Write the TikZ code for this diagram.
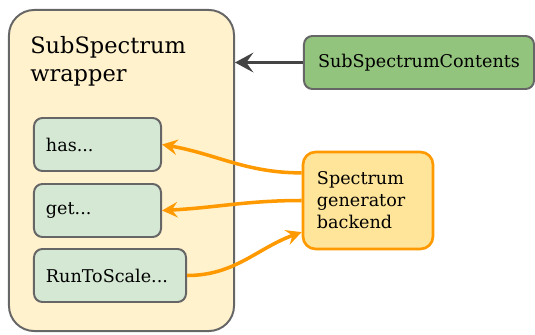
\documentclass[tikz,border=0pt]{standalone}
\usepackage{fontspec}
\setmainfont{DejaVu Serif}
\usetikzlibrary{arrows.meta}
\definecolor{wrapfill}{HTML}{FFF2CC}
\definecolor{edgegray}{HTML}{666666}
\definecolor{methfill}{HTML}{D5E8D4}
\definecolor{contfill}{HTML}{93C47D}
\definecolor{backfill}{HTML}{FFE599}
\definecolor{backedge}{HTML}{FF9900}
\definecolor{darkarrow}{HTML}{444444}
\tikzset{
  method/.style={draw=edgegray,line width=1.4pt,fill=methfill,rounded corners=6pt,
    minimum height=1.325cm,inner xsep=0.3cm,align=left,
    font=\fontsize{12.5}{15.6}\selectfont},
  calls/.style={backedge,line width=2.5pt,-{Stealth[length=11pt,width=11pt,inset=4pt]}}
}
\begin{document}
\begin{tikzpicture}[x=0.025cm,y=-0.025cm]
\useasboundingbox (0,0) rectangle (535,335);
% Wrapper box
\node[draw=edgegray,line width=1.4pt,fill=wrapfill,rounded corners=18pt,
  minimum width=5.625cm,minimum height=8.025cm] (wrapper) at (121.5,170.5) {};
\node[anchor=north west,align=left,inner sep=0pt,
  font=\fontsize{16}{20}\selectfont] (title) at (30,36) {SubSpectrum\\wrapper};

% Methods inside the wrapper
\node[method,text width=2.575cm] (has) at (97.5,144.5) {has...};
\node[method,text width=2.575cm] (get) at (97.5,210.5) {get...};
\node[method,text width=3.2cm] (run) at (110,275.5) {RunToScale...};

% Contents and backend
\node[draw=edgegray,line width=1.4pt,fill=contfill,rounded corners=6pt,
  minimum width=5.75cm,minimum height=1.325cm,
  font=\fontsize{12.5}{15.6}\selectfont] (contents) at (419,62.5) {SubSpectrumContents};
\node[draw=backedge,line width=1.9pt,fill=backfill,rounded corners=9pt,
  minimum height=2.425cm,text width=2.55cm,inner xsep=0.35cm,align=left,
  font=\fontsize{12.5}{15.6}\selectfont] (backend) at (368,200.5)
  {Spectrum\\generator\\backend};

% Connectors
\draw[darkarrow,line width=2.8pt,-{Stealth[length=13pt,width=14pt,inset=5pt]}]
  (contents.west) -- (contents.west -| wrapper.east);
\draw[calls] ([yshift=0.69cm]backend.west) to[out=180,in=-10] (has.east);
\draw[calls] (backend.west) to[out=180,in=3] (get.east);
\draw[calls] (run.east) to[out=0,in=200] ([yshift=-0.79cm]backend.west);
\end{tikzpicture}
\end{document}
